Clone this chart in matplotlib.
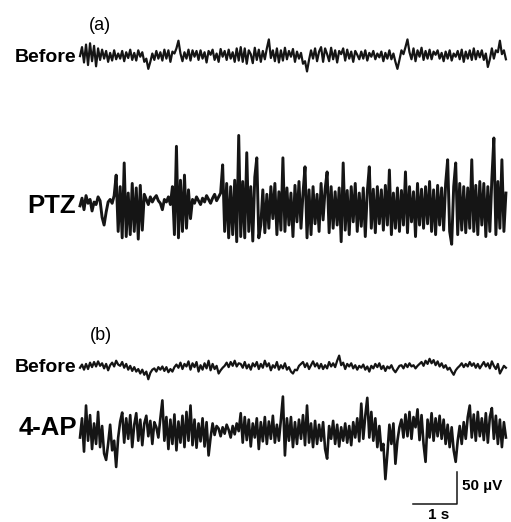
import matplotlib
matplotlib.use("Agg")
import matplotlib.pyplot as plt
import numpy as np

plt.rcParams['font.family'] = ['Liberation Sans', 'DejaVu Sans']

# traces in microvolts, evenly sampled over the record
before_a = [0, 14, -10, 18, -14, 20, -8, 16, -16, 12, -6, 10, -4, 8, -9, 5, -7, 9, -5, 4,
            -4, 8, -8, 6, -3, 10, -6, 5, -7, 9, -1, 6, -9, -4, -20, -9, 4, -6, 8, -4,
            6, -7, 10, -4, 9, -9, 7, 4, 12, 24, 4, -8, 6, -4, 10, -7, 9, -1, 8, -6,
            9, -4, 6, -10, 8, 2, 10, -6, 4, -9, 11, -1, 8, -6, 10, -4, 6, -9, 12, -7,
            14, -9, 12, -12, 9, 3, -11, 13, -6, 10, -9, 8, -5, 12, 26, -3, 9, -8, 12, -10,
            9, -7, 13, -5, 8, -1, 11, -9, 7, -4, 5, -12, -8, -24, -6, 9, -4, 12, -8, 7,
            14, -9, 12, 3, -8, 13, -5, 9, -10, 8, 3, 12, -7, 10, -4, 7, -9, 8, 2, -5,
            7, -4, 9, -7, 5, -1, 8, -5, 4, -2, 7, -8, 5, -4, 9, -5, 4, -9, -20, -6,
            9, 3, 14, 26, 6, -5, 12, -8, 9, -1, 13, -6, 8, -4, 10, -5, 7, 2, 9, -4,
            5, -8, 7, -4, 9, -7, 4, -1, 8, -5, 10, -9, 7, -4, 9, -6, 12, -5, 8, -2,
            9, -6, 4, -17, -5, 12, -4, 9, 6, 24, 3, 9, -5]

ptz = [0, 12, -6, 16, 4, 10, -8, 6, 2, 14, 8, -18, -30, -10, 6, 10, 4, 16,
       48, -40, 30, -50, 67, -48, 20, -45, 35, -40, 28, -52, 32, -38, 18,
       10, 2, 14, 6, 12, 16, 8, 4, -6, 10, 6, 14, 2,
       30, -45, 93, -50, 40, -40, 48, -35, 25, -20,
       10, 4, 14, 8, 2, 12, 6, 16, 10, 4, 12, 18, 8, 14,
       20, 64, -40, 35, -50, 30, -45, 40, -56, 110, -48, 38, -50, 83, -40, 30, -55, 45, 75, -50,
       -30, 25, -42, 18, -35, 30, -20, 35, -45, 22, -38, 75, -40, 28, -30, 20, -48, 32, -25, 38,
       -35, 20, 61, -50, 25, -45, 30, -28, 18, -40, 35, -22, 26, 53, -42, 30, -35, 22, -30, 28,
       -56, 67, -38, 24, -45, 30, -25, 35, -40, 20, -32, 28, -48, 22, 61, -35, 26, -42, 30, -28,
       25, -38, 32, -30, 56, -45, 20, -35, 28, -40, 24, -30, 53, -42, 30, -25, 22, -48, 35, -30,
       26, -35, 30, -28, 38, -40, 25, -45, 32, -30, 28, -38, 35, 72, -40, -60, 30, 67, -45, 35,
       -38, 30, -42, 28, -35, 72, -40, 32, -45, 38, -30, 35, -48, 30, -40, 42, 106, -45, 38, -35, 72, -40, 20]

before_b = [0, 5, -3, 6, -2, 8, 1, 9, 2, 10, 3, 7, -1, 6, -4, 4, 8, 2, 11, 5,
            3, 9, 0, 6, -3, 3, -5, 1, -6, -2, -9, -3, -11, -6, -18, -8, -3, -1, -6, 1,
            -3, 2, -5, 1, -7, -2, -6, 1, 5, 0, 8, -2, 6, 2, 10, -3, 7, 1, 9, -6,
            4, -3, 7, -1, 11, -4, 6, -2, 3, -9, -4, 0, 3, 8, 1, 9, 3, 11, 2, 7,
            6, 0, 9, -1, 5, -3, 7, 2, 9, -2, 6, 0, 11, 2, 7, -4, 4, 0, 9, -3,
            4, -1, 7, -3, 1, -6, -9, -3, -4, 3, 6, 9, 1, 7, -2, 4, 10, 2, 7, -1,
            6, -2, 4, -1, 9, 2, 7, 1, 11, 19, 4, 8, -2, 6, 2, 7, -1, 4, -3, 3,
            0, 5, -3, 2, -6, 3, -1, 6, 1, 7, -2, 3, -5, 2, -1, 4, -3, -7, -2, 3,
            4, -1, 6, 1, 7, 2, 4, -1, 3, 6, 9, 3, 11, 6, 14, 7, 12, 4, 10, 2,
            7, 0, 4, -3, 0, -6, -11, -4, 0, 3, 7, 1, 6, 2, 9, 3, 7, 0, 6, -1,
            4, 9, 2, 7, -1, 10, 3, -2, 6, -9, -3, 3, 0]

ap4 = [-10, 20, -32, 40, -15, 25, -28, 12, -20, 30, -25, 8, -35, -45, -20, 10, -30, -15, -56, -10,
       15, 29, -18, 20, -12, 25, -25, 10, 28, -15, 18, -22, 12, 24, -8, 16, -20, 14, 6, -10,
       20, 48, -15, 22, -28, 18, -20, 26, -30, 15, -18, 24, -25, 30, -15, 40, -22, 18, -26, 12,
       -16, 20, -24, 14, -38, -10, 12, -6, 8, 4, -8, 6, -4, 10, 2, -10, 8, -5, 12, 0,
       28, -18, 22, -14, 18, -24, 12, -10, 20, -28, 14, -16, 22, -20, 15, -12, 24, -18, 10, -15,
       18, 54, -38, 20, -15, 22, -25, 14, -20, 18, -12, 25, -22, 40, -18, 12, -25, 16, -20, 10,
       -15, 14, -28, -43, 8, -12, 16, -20, 10, -24, 6, -15, 12, -18, 8, -22, 14, -10, 20, -16,
       43, -12, 24, 52, -10, 30, -15, 20, -25, 8, -30, -20, -75, -35, 10, -20, 12, -51, -15, 6,
       18, -10, 26, -8, 30, -12, 22, 6, 34, -14, 25, -20, -48, 18, -10, 28, -15, 20, -8, 24,
       -12, 18, -20, 10, -25, 6, -30, -48, -15, 8, -20, 14, -12, 22, 40, -10, 26, -15, 30, -8,
       20, -14, 28, -18, 22, 36, -12, 24, -20, 18, -25, 14, -10]

labels = ["Before", "PTZ", "Before", "4-AP"]
offsets = [728, 494, 241, 142]   # baseline of each trace, uV
duration = 9.68                   # seconds shown
bar_t, bar_v = 1.0, 50            # scale bar

W, H = 511, 522
fig = plt.figure(figsize=(W / 100, H / 100), dpi=100)
ax = fig.add_axes([0, 0, 1, 1])
# 1 s = 44 px, 50 uV = 32 px
ax.set_xlim(-80 / 44, (W - 80) / 44)
ax.set_ylim(0, H / 0.64)
ax.axis('off')

traces = [before_a, ptz, before_b, ap4]
widths = [1.6, 2.1, 1.6, 1.9]
for vals, off, lw in zip(traces, offsets, widths):
    t = np.linspace(0, duration, len(vals))
    ax.plot(t, np.array(vals) + off, color='#151515', lw=lw)

# scale bar
x0, y0 = 8.57, 28
ax.plot([x0 - bar_t, x0, x0], [y0, y0, y0 + bar_v], color='#151515', lw=1.1)

def px(x, y):
    return x / W, 1 - y / H

fig.text(*px(100, 25), "(a)", fontsize=13, ha='center', va='center')
fig.text(*px(101, 335), "(b)", fontsize=13, ha='center', va='center')
fig.text(*px(76, 57), labels[0], fontsize=14, fontweight='bold', ha='right', va='center')
fig.text(*px(76, 206), labels[1], fontsize=18.5, fontweight='bold', ha='right', va='center')
fig.text(*px(76, 368), labels[2], fontsize=14, fontweight='bold', ha='right', va='center')
fig.text(*px(77, 428), labels[3], fontsize=18.5, fontweight='bold', ha='right', va='center')
fig.text(*px(462, 486), "50 \u00b5V", fontsize=11, fontweight='bold', ha='left', va='center')
fig.text(*px(439, 508), "1 s", fontsize=11, fontweight='bold', ha='center', va='top')

fig.savefig("out.png", dpi=100)
